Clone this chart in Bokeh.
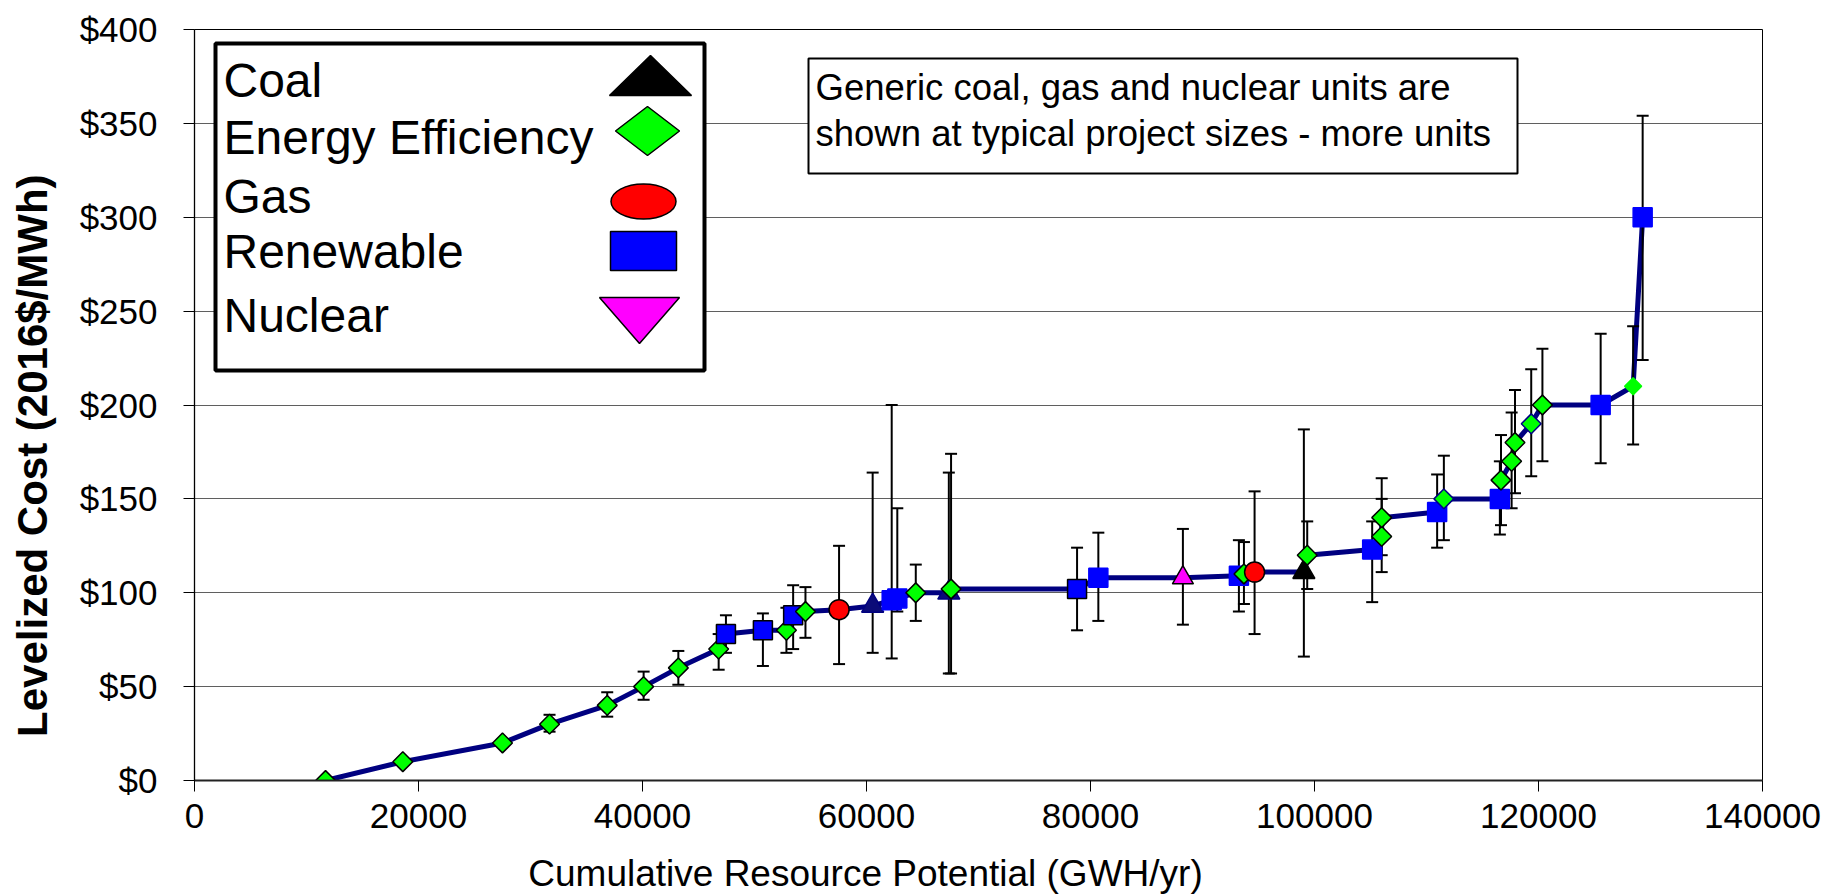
import math
from bokeh.plotting import figure
from bokeh.layouts import row, column
from bokeh.models import (Range1d, SingleIntervalTicker, NumeralTickFormatter,
                          Label, ColumnDataSource)
from bokeh.embed import file_html
from bokeh.resources import INLINE

nan = float("nan")

# Supply curve: cumulative resource potential (GWh/yr) vs levelized cost (2016$/MWh)
potential = [11700, 18600, 27500, 31700, 36850, 40100, 43200, 46800, 47450, 50750,
             52850, 53450, 54550, 57550, 60550, 62250, 62750, 64400, 67350, 67550,
             78800, 80700, 88250, 93250, 93700, 94650, 99050, 99350, 105150, 106000,
             106000, 110950, 111550, 116550, 116650, 117600, 117900, 119350, 120350, 125550,
             128450, 129300]
cost = [0, 10, 20, 30, 40, 50, 60, 70, 78, 80,
        80, 88, 90, 91, 93, 96, 97, 100, 100, 102,
        102, 108, 108, 109, 110, 111, 111, 120, 123, 130,
        140, 143, 150, 150, 160, 170, 180, 190, 200, 200,
        210, 300]
resource = ["EE", "EE", "EE", "EE", "EE", "EE", "EE", "EE", "Renewable", "Renewable",
            "EE", "Renewable", "EE", "Gas", "Coal", "Renewable", "Renewable", "EE", "Coal", "EE",
            "Renewable", "Renewable", "Nuclear", "Renewable", "EE", "Gas", "Coal", "EE", "Renewable", "EE",
            "EE", "Renewable", "EE", "Renewable", "EE", "EE", "EE", "EE", "EE", "Renewable",
            "EE", "Renewable"]
cost_low = [nan, nan, nan, 26, 34, 43, 51, 59, 68, 61,
            68, 70, 76, 62, 68, 65, 90, 85, 57, 57,
            80, 85, 83, 90, 94, 78, 66, 102, 95, 111,
            120, 124, 128, 131, 136, 145, 153, 162, 170, 169,
            179, 224]
cost_high = [nan, nan, nan, 35, 47, 58, 69, 78, 88, 89,
             92, 104, 103, 125, 164, 200, 145, 115, 164, 174,
             124, 132, 134, 128, 127, 154, 187, 138, 138, 150,
             161, 163, 173, 170, 184, 196, 208, 219, 230, 238,
             242, 354]

x_ticks_step = 20000
y_ticks_step = 50

legend_labels = ["Coal", "Energy Efficiency", "Gas", "Renewable", "Nuclear"]
note_lines = ["Generic coal, gas and nuclear units are",
              "shown at typical project sizes - more units"]
x_title = "Cumulative Resource Potential (GWH/yr)"
y_title = "Levelized Cost (2016$/MWh)"

# ---------------------------------------------------------------- layout (page pixels)
W, H = 1828, 894
FL, FR, FT, FB = 194, 1762, 29, 780          # plot frame edges
LEFT_W = 70                                   # strip holding the vertical title
MAIN_H = 852                                  # chart height; a strip below holds the x title
X0, X1, Y0, Y1 = 0, 140000, 0, 400


def px_x(px):
    return X0 + (px - FL) * (X1 - X0) / (FR - FL)


def px_y(py):
    return Y0 + (FB - py) * (Y1 - Y0) / (FB - FT)


def dx(px):
    return px * (X1 - X0) / (FR - FL)


def dy(px):
    return px * (Y1 - Y0) / (FB - FT)


FONT = "Liberation Sans"


def strip(width, height):
    s = figure(width=width, height=height, output_backend="svg", toolbar_location=None,
               x_range=Range1d(0, width), y_range=Range1d(0, height),
               x_axis_location=None, y_axis_location=None, min_border=0)
    s.grid.visible = False
    s.outline_line_color = None
    s.background_fill_color = "white"
    s.border_fill_color = "white"
    return s


p = figure(width=W - LEFT_W, height=MAIN_H, output_backend="svg", toolbar_location=None,
           x_range=Range1d(X0, X1), y_range=Range1d(Y0, Y1),
           min_border_left=FL - LEFT_W, min_border_right=W - FR,
           min_border_top=FT, min_border_bottom=MAIN_H - FB)
p.background_fill_color = "white"
p.border_fill_color = "white"
p.outline_line_color = "black"
p.outline_line_width = 1

p.xgrid.visible = False
p.ygrid.grid_line_color = "#5f5f5f"
p.ygrid.grid_line_width = 1.2
p.ygrid.ticker = SingleIntervalTicker(interval=y_ticks_step, num_minor_ticks=0)

p.xaxis.ticker = SingleIntervalTicker(interval=x_ticks_step, num_minor_ticks=0)
p.yaxis.ticker = SingleIntervalTicker(interval=y_ticks_step, num_minor_ticks=0)
p.xaxis.formatter = NumeralTickFormatter(format="0")
p.yaxis.formatter = NumeralTickFormatter(format="$0")
for ax in (p.xaxis, p.yaxis):
    ax.major_tick_in = 0
    ax.major_tick_out = 11
    ax.major_tick_line_color = "black"
    ax.major_tick_line_width = 1
    ax.minor_tick_line_color = None
    ax.major_label_text_font = FONT
    ax.major_label_text_font_size = "35px"
    ax.major_label_text_color = "black"
p.xaxis.axis_line_color = "#222222"
p.xaxis.axis_line_width = 2
p.yaxis.axis_line_color = "black"
p.yaxis.axis_line_width = 1.3
p.xaxis.major_label_standoff = 12
p.yaxis.major_label_standoff = 26

# ---------------------------------------------------------------- styles per resource
fill_of = {"EE": "#00ff00", "Renewable": "#0000ff", "Gas": "#ff0000",
           "Coal": "#000000", "Nuclear": "#ff00ff"}
marker_of = {"EE": "square", "Renewable": "square", "Gas": "circle",
             "Coal": "triangle", "Nuclear": "triangle"}
size_of = {"EE": 14, "Renewable": 19, "Gas": 20, "Coal": 22, "Nuclear": 21}
angle_of = {"EE": math.pi / 4}

n = len(potential)
fills = [fill_of[r] for r in resource]
lines = ["black"] * n
markers = [marker_of[r] for r in resource]
sizes = [size_of[r] for r in resource]
angles = [angle_of.get(r, 0.0) for r in resource]

# individual point formatting
for i in (15, 16, 21, 23, 28, 31, 33, 39, 41):      # renewables drawn without outline
    lines[i] = fill_of["Renewable"]
for i in (14, 18):                                   # navy coal units
    fills[i] = "#0b0b78"
    lines[i] = "#000080"
for i in (32, 37):                                   # navy-edged efficiency points
    lines[i] = "#000080"
lines[40] = fill_of["EE"]
sizes[40] = 12

pts = ColumnDataSource(dict(x=potential, y=cost, fill=fills, line=lines,
                            marker=markers, size=sizes, angle=angles))

# connecting curve
p.line(potential, cost, line_color="#000080", line_width=5)

# cost range bars
ex = [x for x, lo in zip(potential, cost_low) if not math.isnan(lo)]
elo = [lo for lo in cost_low if not math.isnan(lo)]
ehi = [hi for hi in cost_high if not math.isnan(hi)]
p.segment(x0=ex, y0=elo, x1=ex, y1=ehi, line_color="black", line_width=2)
p.scatter(x=ex + ex, y=elo + ehi, marker="dash", size=12,
          line_color="black", line_width=2)

# resource markers
p.scatter(x="x", y="y", source=pts, marker="marker", size="size", angle="angle",
          fill_color="fill", line_color="line", line_width=1.5)

# ---------------------------------------------------------------- legend box
p.quad(left=px_x(215), right=px_x(704), top=px_y(43), bottom=px_y(370),
       fill_color="white", line_color="black", line_width=4)

legend_baselines = [80, 137, 196, 251, 315]
for lab, base in zip(legend_labels, legend_baselines):
    p.add_layout(Label(x=px_x(223), y=px_y(base), text=lab, text_font=FONT,
                       text_font_size="48px", text_color="black",
                       text_align="left", text_baseline="alphabetic"))

# legend symbols
p.patch([px_x(609), px_x(691), px_x(650)], [px_y(95), px_y(95), px_y(55)],
        fill_color=fill_of["Coal"], line_color="black", line_width=1.5)
p.patch([px_x(615), px_x(647), px_x(679), px_x(647)],
        [px_y(130.5), px_y(106), px_y(130.5), px_y(155)],
        fill_color=fill_of["EE"], line_color="black", line_width=1.5)
p.ellipse(x=px_x(643), y=px_y(201), width=dx(65), height=dy(35),
          fill_color=fill_of["Gas"], line_color="black", line_width=1.5)
p.quad(left=px_x(610), right=px_x(676), top=px_y(231), bottom=px_y(270),
       fill_color=fill_of["Renewable"], line_color="black", line_width=1.5)
p.patch([px_x(599), px_x(679), px_x(639)], [px_y(297), px_y(297), px_y(343)],
        fill_color=fill_of["Nuclear"], line_color="black", line_width=1.5)

# ---------------------------------------------------------------- note box
p.quad(left=px_x(808), right=px_x(1517), top=px_y(58), bottom=px_y(173),
       fill_color="white", line_color="black", line_width=2)
for line_text, base in zip(note_lines, [86.5, 133]):
    p.add_layout(Label(x=px_x(815), y=px_y(base), text=line_text, text_font=FONT,
                       text_font_size="36.5px", text_color="black",
                       text_align="left", text_baseline="alphabetic"))

# ---------------------------------------------------------------- axis titles
left_strip = strip(LEFT_W, MAIN_H)
left_strip.add_layout(Label(x=31.5, y=MAIN_H - 483.5, text=y_title, text_font=FONT,
                            text_font_size="42px", text_font_style="bold",
                            text_color="black", text_align="center",
                            text_baseline="alphabetic", angle=math.pi / 2))

bottom_strip = strip(W, H - MAIN_H)
bottom_strip.add_layout(Label(x=865, y=(H - MAIN_H) - 21, text=x_title, text_font=FONT,
                              text_font_size="37px", text_color="black",
                              text_align="center", text_baseline="alphabetic"))

layout = column(row(left_strip, p, spacing=0), bottom_strip, spacing=0)

open("out.html", "w").write(file_html(layout, INLINE))
